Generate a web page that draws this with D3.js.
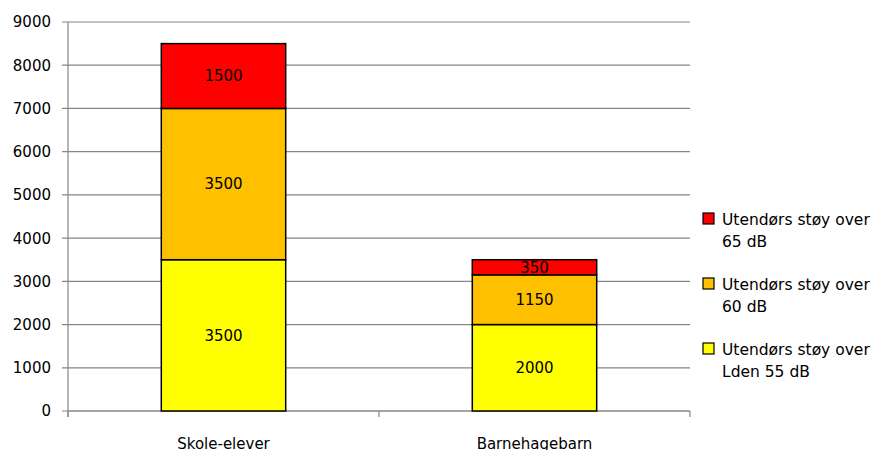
<!DOCTYPE html>
<html lang="no">
<head>
<meta charset="UTF-8">
<title>Utendørs støy</title>
<script src="https://d3js.org/d3.v7.min.js"></script>
<style>
  body { margin: 0; background: #fff; }
  svg { display: block; font-family: "DejaVu Sans", sans-serif; }
</style>
</head>
<body>
<svg id="chart" width="877" height="450"></svg>
<script>
// data
var categories = ["Skole-elever", "Barnehagebarn"];
var seriesNames = ["Utendørs støy over Lden 55 dB", "Utendørs støy over 60 dB", "Utendørs støy over 65 dB"];
var over55 = [3500, 2000];
var over60 = [3500, 1150];
var over65 = [1500, 350];
var yTicks = [0, 1000, 2000, 3000, 4000, 5000, 6000, 7000, 8000, 9000];
var legendLines = [["Utendørs støy over", "65 dB"], ["Utendørs støy over", "60 dB"], ["Utendørs støy over", "Lden 55 dB"]];
var colors = ["#FFFF00", "#FFC000", "#FF0000"];

var svg = d3.select("#chart");
var plotL = 68, plotR = 690, plotT = 22, plotB = 411;

var x = d3.scaleBand().domain(categories).range([plotL, plotR]).paddingInner(0.6).paddingOuter(0.3);
var y = d3.scaleLinear().domain([0, 9000]).range([plotB, plotT]);

var rows = categories.map(function (c, i) {
  return { cat: c, s0: over55[i], s1: over60[i], s2: over65[i] };
});
var stack = d3.stack().keys(["s0", "s1", "s2"])(rows);

// gridlines
svg.append("g").selectAll("line").data(yTicks).join("line")
  .attr("x1", plotL - 6).attr("x2", plotR)
  .attr("y1", function (d) { return y(d); }).attr("y2", function (d) { return y(d); })
  .attr("stroke", "#868686").attr("stroke-width", 1.2);

// y labels
svg.append("g").selectAll("text").data(yTicks).join("text")
  .attr("x", 51).attr("y", function (d) { return y(d); })
  .attr("dy", "0.36em").attr("text-anchor", "end")
  .attr("font-size", 15).attr("fill", "#000")
  .text(function (d) { return d; });

// axes
svg.append("line").attr("x1", plotL).attr("x2", plotL).attr("y1", plotT).attr("y2", plotB + 6)
  .attr("stroke", "#868686").attr("stroke-width", 1.2);
svg.append("line").attr("x1", plotL).attr("x2", plotR).attr("y1", plotB).attr("y2", plotB)
  .attr("stroke", "#868686").attr("stroke-width", 1.2);
svg.append("g").selectAll("line").data([0, 1, 2]).join("line")
  .attr("x1", function (d) { return plotL + d * (plotR - plotL) / 2; })
  .attr("x2", function (d) { return plotL + d * (plotR - plotL) / 2; })
  .attr("y1", plotB).attr("y2", plotB + 6)
  .attr("stroke", "#868686").attr("stroke-width", 1.2);

// bars
var layers = svg.append("g").selectAll("g").data(stack).join("g")
  .attr("fill", function (d, i) { return colors[i]; });

layers.selectAll("rect").data(function (d) { return d; }).join("rect")
  .attr("x", function (d) { return x(d.data.cat); })
  .attr("width", x.bandwidth())
  .attr("y", function (d) { return y(d[1]); })
  .attr("height", function (d) { return y(d[0]) - y(d[1]); })
  .attr("stroke", "#000").attr("stroke-width", 1.5);

layers.selectAll("text").data(function (d) { return d; }).join("text")
  .attr("x", function (d) { return x(d.data.cat) + x.bandwidth() / 2; })
  .attr("y", function (d) { return (y(d[0]) + y(d[1])) / 2; })
  .attr("dy", "0.36em").attr("text-anchor", "middle")
  .attr("font-size", 15).attr("fill", "#000")
  .text(function (d) { return d[1] - d[0]; });

// category labels
svg.append("g").selectAll("text").data(categories).join("text")
  .attr("x", function (d) { return x(d) + x.bandwidth() / 2; })
  .attr("y", 449).attr("text-anchor", "middle")
  .attr("font-size", 15).attr("fill", "#000")
  .text(function (d) { return d; });

// legend
var legend = svg.append("g").selectAll("g").data(legendLines).join("g")
  .attr("transform", function (d, i) { return "translate(703," + (213 + i * 65) + ")"; });
legend.append("rect").attr("width", 11).attr("height", 11)
  .attr("fill", function (d, i) { return colors[2 - i]; })
  .attr("stroke", "#000").attr("stroke-width", 1.2);
legend.append("text").attr("x", 19).attr("y", 12)
  .attr("font-size", 15.5).attr("fill", "#000")
  .selectAll("tspan").data(function (d) { return d; }).join("tspan")
  .attr("x", 19).attr("dy", function (d, i) { return i === 0 ? 0 : 22; })
  .text(function (d) { return d; });
</script>
</body>
</html>
